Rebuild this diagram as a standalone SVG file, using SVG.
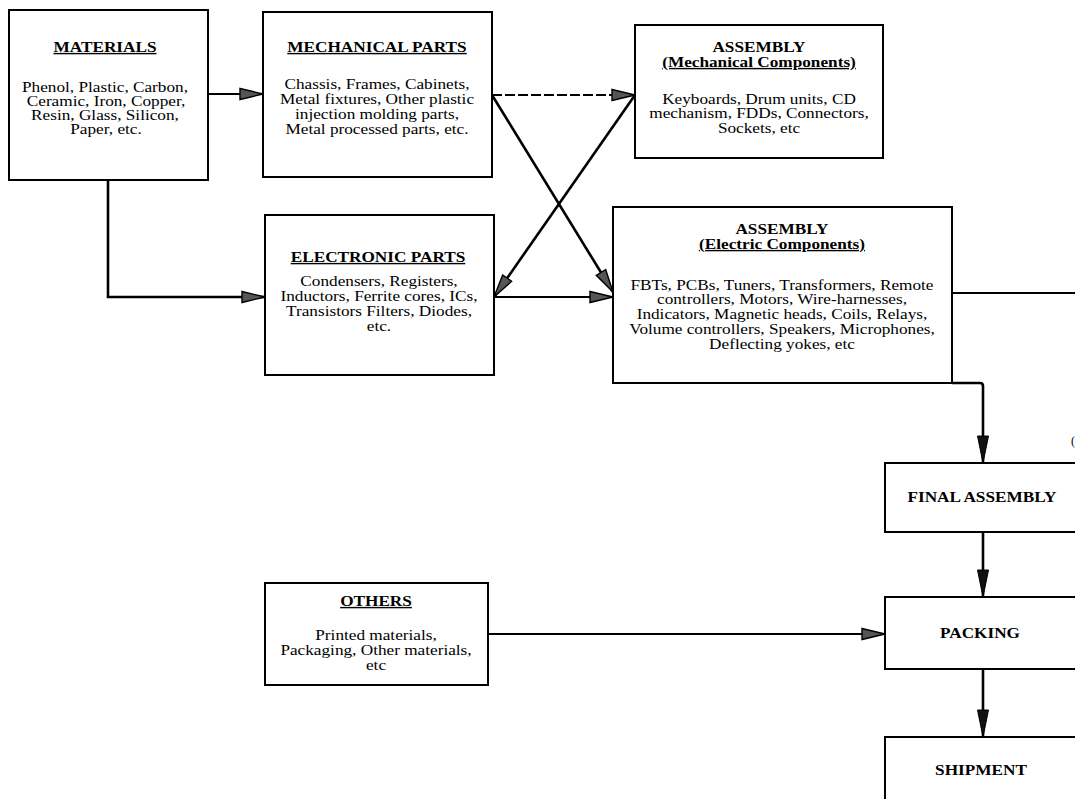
<svg xmlns="http://www.w3.org/2000/svg" width="1075" height="799" viewBox="0 0 1075 799">
<style>
.box{fill:#fff;stroke:#000;stroke-width:2}
text{font-family:"Liberation Serif","Times New Roman",serif;font-size:14px;fill:#000;text-anchor:middle}
.t{font-weight:bold}
.u{text-decoration:underline}
.c{fill:none;stroke:#000;stroke-width:1.8}
.thick{stroke-width:2.6}
.dash{stroke-dasharray:10 3}
</style>
<defs>
<marker id="ah" markerUnits="userSpaceOnUse" markerWidth="26" markerHeight="14" refX="24" refY="7" orient="auto">
<path d="M1,1.5 L24,7 L1,12.5 Z" fill="#555" stroke="#000" stroke-width="1.4"/>
</marker>
<marker id="av" markerUnits="userSpaceOnUse" markerWidth="30" markerHeight="14" refX="28" refY="7" orient="auto">
<path d="M1,1.5 L28,7 L1,12.5 Z" fill="#111" stroke="#000" stroke-width="1"/>
</marker>
</defs>
<rect width="1075" height="799" fill="#fff"/>
<g id="connectors">
<path class="c" d="M208,94 H263" marker-end="url(#ah)"/>
<path class="c thick" d="M108,180 V297 H265" marker-end="url(#ah)"/>
<path class="c dash" d="M492,95 H635" marker-end="url(#ah)"/>
<path class="c thick" d="M492,95 L613,292" marker-end="url(#ah)"/>
<path class="c thick" d="M635,95 L494,297" marker-end="url(#ah)"/>
<path class="c" d="M494,297 H613" marker-end="url(#ah)"/>
<path class="c" d="M952,293 H1075"/>
<path class="c thick" d="M952,383 H980 Q983,383 983,386 V463" marker-end="url(#av)"/>
<path class="c thick" d="M983,532 V597" marker-end="url(#av)"/>
<path class="c thick" d="M983,669 V737" marker-end="url(#av)"/>
<path class="c" d="M488,634 H885" marker-end="url(#ah)"/>
</g>
<g id="materials">
<rect class="box" x="9" y="10" width="199" height="170"/>
<text class="t u" transform="translate(105,52) scale(1.23,1)">MATERIALS</text>
<text transform="translate(105,92) scale(1.23,1)">Phenol, Plastic, Carbon,</text>
<text transform="translate(106,106) scale(1.23,1)">Ceramic, Iron, Copper,</text>
<text transform="translate(105,120) scale(1.23,1)">Resin, Glass, Silicon,</text>
<text transform="translate(106,134) scale(1.23,1)">Paper, etc.</text>
</g>
<g id="mechanical-parts">
<rect class="box" x="263" y="12" width="229" height="165"/>
<text class="t u" transform="translate(377,52) scale(1.23,1)">MECHANICAL PARTS</text>
<text transform="translate(377,89) scale(1.23,1)">Chassis, Frames, Cabinets,</text>
<text transform="translate(377,104) scale(1.23,1)">Metal fixtures, Other plastic</text>
<text transform="translate(377,119) scale(1.23,1)">injection molding parts,</text>
<text transform="translate(377,134) scale(1.23,1)">Metal processed parts, etc.</text>
</g>
<g id="assembly-mechanical">
<rect class="box" x="635" y="25" width="248" height="133"/>
<text class="t" transform="translate(759,52) scale(1.23,1)">ASSEMBLY</text>
<text class="t u" transform="translate(759,67) scale(1.23,1)">(Mechanical Components)</text>
<text transform="translate(759,104) scale(1.23,1)">Keyboards, Drum units, CD</text>
<text transform="translate(759,118) scale(1.23,1)">mechanism, FDDs, Connectors,</text>
<text transform="translate(759,133) scale(1.23,1)">Sockets, etc</text>
</g>
<g id="electronic-parts">
<rect class="box" x="265" y="215" width="229" height="160"/>
<text class="t u" transform="translate(378,262) scale(1.23,1)">ELECTRONIC PARTS</text>
<text transform="translate(379,286) scale(1.23,1)">Condensers, Registers,</text>
<text transform="translate(379,301) scale(1.23,1)">Inductors, Ferrite cores, ICs,</text>
<text transform="translate(379,316) scale(1.23,1)">Transistors Filters, Diodes,</text>
<text transform="translate(379,331) scale(1.23,1)">etc.</text>
</g>
<g id="assembly-electric">
<rect class="box" x="613" y="207" width="339" height="176"/>
<text class="t" transform="translate(782,234) scale(1.23,1)">ASSEMBLY</text>
<text class="t u" transform="translate(782,249) scale(1.23,1)">(Electric Components)</text>
<text transform="translate(782,290) scale(1.23,1)">FBTs, PCBs, Tuners, Transformers, Remote</text>
<text transform="translate(782,304) scale(1.23,1)">controllers, Motors, Wire-harnesses,</text>
<text transform="translate(782,319) scale(1.23,1)">Indicators, Magnetic heads, Coils, Relays,</text>
<text transform="translate(782,334) scale(1.23,1)">Volume controllers, Speakers, Microphones,</text>
<text transform="translate(782,349) scale(1.23,1)">Deflecting yokes, etc</text>
</g>
<g id="final-assembly">
<rect class="box" x="885" y="463" width="210" height="69"/>
<text class="t" transform="translate(982,502) scale(1.23,1)">FINAL ASSEMBLY</text>
</g>
<g id="packing">
<rect class="box" x="885" y="597" width="210" height="72"/>
<text class="t" transform="translate(980,638) scale(1.23,1)">PACKING</text>
</g>
<g id="shipment">
<rect class="box" x="885" y="737" width="210" height="80"/>
<text class="t" transform="translate(981,775) scale(1.23,1)">SHIPMENT</text>
</g>
<g id="others">
<rect class="box" x="265" y="583" width="223" height="102"/>
<text class="t u" transform="translate(376,606) scale(1.23,1)">OTHERS</text>
<text transform="translate(376,640) scale(1.23,1)">Printed materials,</text>
<text transform="translate(376,655) scale(1.23,1)">Packaging, Other materials,</text>
<text transform="translate(376,670) scale(1.23,1)">etc</text>
</g>
<text transform="translate(1073,445)" style="font-size:12px">(</text>
</svg>
